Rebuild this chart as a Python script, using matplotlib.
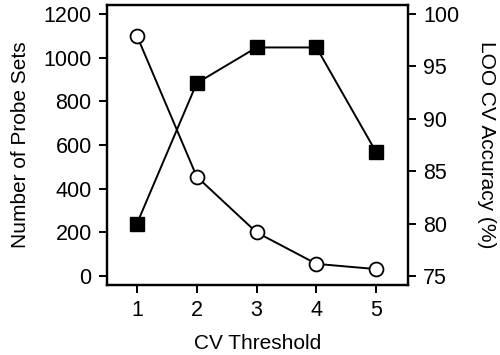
import matplotlib
matplotlib.use("Agg")
import matplotlib.pyplot as plt

cv_threshold = [1, 2, 3, 4, 5]
n_probe_sets = [1100, 455, 200, 56, 32]
loo_accuracy = [80.0, 93.4, 96.8, 96.8, 86.8]

plt.rcParams["font.family"] = ["Liberation Sans", "DejaVu Sans"]
plt.rcParams["font.size"] = 15

fig = plt.figure(figsize=(5, 3.55), dpi=100)
ax = fig.add_axes([0.214, 0.197, 0.602, 0.789])
ax2 = ax.twinx()

ax.plot(cv_threshold, n_probe_sets, "k-", lw=1.4, marker="o", ms=10,
        mfc="white", mec="black", mew=1.3, zorder=3)
ax2.plot(cv_threshold, loo_accuracy, "k-", lw=1.4, marker="s", ms=10,
         mfc="black", mec="black", zorder=3)

ax.set_xlim(0.5, 5.53)
ax.set_ylim(-41, 1241)
ax2.set_ylim(74.15, 100.85)
ax.set_xticks(cv_threshold)
ax.set_yticks(range(0, 1201, 200))
ax2.set_yticks(range(75, 101, 5))

ax.set_xlabel("CV Threshold", labelpad=9)
ax.set_ylabel("Number of Probe Sets", labelpad=10)
ax2.set_ylabel("LOO CV Accuracy (%)", rotation=270, labelpad=26)

for a in (ax, ax2):
    for s in a.spines.values():
        s.set_linewidth(1.6)
    a.tick_params(direction="out", length=6, width=1.4, pad=5, labelsize=15.5)

fig.savefig("out.png", dpi=100)
